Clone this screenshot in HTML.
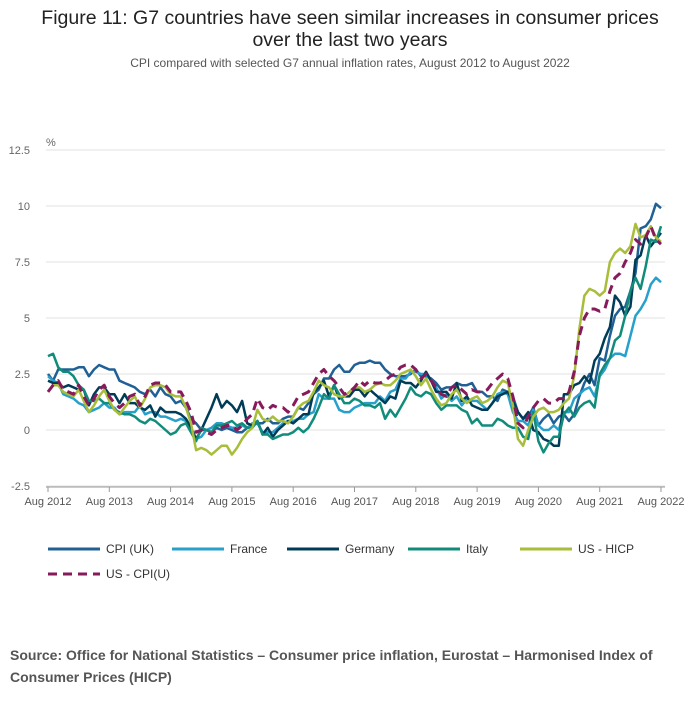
<!DOCTYPE html>
<html><head><meta charset="utf-8"><style>
body{margin:0;background:#fff;font-family:"Liberation Sans",sans-serif;}
#wrap{position:relative;width:700px;height:707px;overflow:hidden;}
.t{position:absolute;left:0;width:700px;text-align:center;color:#222;}
</style></head><body>
<div id="wrap">
<div class="t" style="top:7px;font-size:19.5px;line-height:22px;">Figure 11: G7 countries have seen similar increases in consumer prices<br>over the last two years</div>
<div class="t" style="top:56px;font-size:12px;color:#555;">CPI compared with selected G7 annual inflation rates, August 2012 to August 2022</div>
<svg id="chart" width="700" height="620" style="position:absolute;left:0;top:0"></svg>
<div style="position:absolute;left:10px;top:644px;width:680px;font-size:14px;font-weight:bold;color:#555;line-height:22px;">Source: Office for National Statistics – Consumer price inflation, Eurostat – Harmonised Index of Consumer Prices (HICP)</div>
</div>
<script>
const yTicks=[-2.5,0,2.5,5,7.5,10,12.5];
const yTickLabels=["-2.5","0","2.5","5","7.5","10","12.5"];
const xTickLabels=["Aug 2012","Aug 2013","Aug 2014","Aug 2015","Aug 2016","Aug 2017","Aug 2018","Aug 2019","Aug 2020","Aug 2021","Aug 2022"];
const seriesNames=["CPI (UK)","France","Germany","Italy","US - HICP","US - CPI(U)"];
const cpiUK=[2.5,2.2,2.7,2.7,2.7, 2.7,2.8,2.8,2.4,2.7,2.9,2.8,2.7,2.7,2.2,2.1,2.0, 1.9,1.7,1.6,1.8,1.5,1.9,1.6,1.5,1.2,1.3,1.0,0.5, 0.3,0.0,0.0,-0.1,0.1,0.0,0.1,0.0,-0.1,-0.1,0.1,0.2, 0.3,0.3,0.5,0.3,0.3,0.5,0.6,0.6,1.0,0.9,1.2,1.6, 1.8,2.3,2.3,2.7,2.9,2.6,2.6,2.9,3.0,3.0,3.1,3.0, 3.0,2.7,2.5,2.4,2.4,2.4,2.5,2.7,2.4,2.4,2.3,2.1, 1.8,1.9,1.9,2.1,2.0,2.0,2.1,1.7,1.7,1.5,1.5,1.3, 1.8,1.7,1.5,0.8,0.5,0.6,1.0,0.2,0.5,0.7,0.3,0.6, 0.7,0.4,0.7,1.5,2.1,2.5,2.0,3.2,3.1,4.2,5.1,5.4, 5.5,6.2,7.0,9.0,9.1,9.4,10.1,9.9];
const france=[2.4,2.2,2.1,1.6,1.5, 1.4,1.2,1.1,0.8,0.9,1.0,1.2,1.0,1.0,0.7,0.8,0.8, 0.8,1.1,0.7,0.8,0.8,0.6,0.6,0.5,0.4,0.5,0.4,0.1, -0.4,-0.3,0.0,0.1,0.3,0.3,0.2,0.1,0.1,0.2,0.1,0.3, 0.3,-0.1,-0.1,-0.1,0.1,0.3,0.4,0.4,0.5,0.5,0.7,0.8, 1.6,1.4,1.4,1.4,0.9,0.8,0.8,1.0,1.1,1.2,1.2,1.2, 1.5,1.3,1.7,1.8,2.3,2.3,2.6,2.6,2.5,2.5,2.2,1.9, 1.4,1.6,1.3,1.5,1.1,1.4,1.3,1.3,1.1,0.9,1.2,1.6, 1.7,1.6,0.8,0.4,0.4,0.2,0.9,0.2,0.0,0.0,0.2,0.0, 0.8,0.8,1.4,1.6,1.8,1.9,1.5,2.4,2.7,3.2,3.4,3.4, 3.3,4.2,5.1,5.4,5.8,6.5,6.8,6.6];
const germany=[2.2,2.1,2.1,1.9,2.0, 1.9,1.8,1.8,1.1,1.6,1.9,1.9,1.6,1.6,1.2,1.6,1.2, 1.2,1.0,0.9,1.1,0.6,1.0,0.8,0.8,0.8,0.7,0.5,0.1, -0.4,0.0,0.5,1.0,1.6,1.0,1.3,1.1,0.8,1.3,0.3,0.2, 0.4,-0.2,0.1,-0.3,0.0,0.2,0.4,0.3,0.5,0.7,0.7,1.7, 1.9,2.2,1.5,2.0,1.4,1.5,1.5,1.8,1.8,1.5,1.8,1.6, 1.4,1.2,1.5,1.4,2.2,2.1,2.1,1.9,2.2,2.6,2.2,1.7, 1.7,1.7,1.4,2.1,1.3,1.5,1.1,1.0,0.9,0.9,1.2,1.5, 1.6,1.7,1.3,0.8,0.5,0.8,0.0,-0.1,-0.4,-0.5,-0.7,-0.7, 1.6,1.6,2.0,2.1,2.4,2.1,3.1,3.4,4.1,4.6,6.0,5.7, 5.1,5.5,7.6,7.8,8.7,8.2,8.5,8.8];
const italy=[3.3,3.4,2.8,2.6,2.6, 2.4,2.0,1.8,1.3,1.3,1.4,1.2,1.2,0.9,0.8,0.7,0.7, 0.6,0.4,0.3,0.5,0.4,0.2,0.0,-0.2,-0.1,0.2,0.3,-0.1, -0.5,0.1,0.0,-0.1,0.2,0.2,0.3,0.4,0.2,0.3,0.1,0.1, 0.4,-0.2,-0.2,-0.4,-0.3,-0.2,-0.2,-0.1,0.1,-0.1,0.1,0.5, 1.0,1.6,1.4,2.0,1.6,1.2,1.2,1.4,1.3,1.1,1.1,1.0, 1.2,0.5,0.9,0.6,1.0,1.4,1.9,1.6,1.5,1.7,1.6,1.2, 0.9,1.1,1.1,1.1,0.9,0.8,0.3,0.5,0.2,0.2,0.2,0.5, 0.4,0.2,0.1,0.1,-0.3,-0.4,0.8,-0.5,-1.0,-0.6,-0.3,-0.3, 0.7,1.0,0.6,1.0,1.2,1.3,1.0,2.5,2.9,3.2,4.0,4.2, 5.1,6.2,6.8,6.3,7.3,8.5,8.4,9.1];
const usHICP=[1.7,2.0,2.0,1.7,1.6, 1.5,1.8,1.3,0.8,1.1,1.5,1.8,1.3,0.9,0.7,1.0,1.3, 1.5,1.0,1.4,1.9,2.0,2.0,1.9,1.6,1.5,1.5,1.0,0.3, -0.9,-0.8,-0.9,-1.1,-0.9,-0.7,-0.7,-1.1,-0.8,-0.4,-0.1,0.1, 0.9,0.5,0.4,0.6,0.4,0.4,0.3,0.6,1.0,1.2,1.3,1.7, 2.2,2.0,1.9,1.6,1.5,1.5,1.7,1.9,1.9,1.7,1.8,2.0, 2.1,2.0,2.0,2.2,2.5,2.6,2.7,2.4,2.0,2.3,1.8,1.4, 1.1,1.2,1.6,1.8,1.4,1.2,1.4,1.5,1.2,1.3,1.5,1.9, 2.2,2.1,1.1,-0.4,-0.7,0.0,0.6,0.9,1.0,0.8,0.8,0.9, 1.2,1.4,2.4,4.5,6.0,6.3,6.2,6.0,6.2,7.5,7.9,8.1, 7.9,8.2,9.2,8.6,8.7,9.1,8.6,8.4];
const usCPI=[1.7,2.0,2.2,1.8,1.7, 1.6,2.0,1.5,1.1,1.4,1.8,2.0,1.5,1.2,1.0,1.2,1.5, 1.6,1.1,1.5,2.0,2.1,2.1,2.0,1.7,1.7,1.7,1.3,0.8, -0.1,0.0,-0.1,-0.2,0.0,0.1,0.2,0.2,0.0,0.2,0.5,0.7, 1.4,1.0,0.9,1.1,1.0,1.0,0.8,1.1,1.5,1.6,1.7,2.1, 2.5,2.7,2.4,2.2,1.9,1.6,1.7,1.9,2.2,2.0,2.2,2.1, 2.1,2.2,2.4,2.5,2.8,2.9,2.9,2.7,2.3,2.5,2.2,1.9, 1.6,1.5,1.9,2.0,1.8,1.6,1.8,1.7,1.7,1.8,2.1,2.3, 2.5,2.3,1.5,0.3,0.1,0.6,1.0,1.3,1.4,1.2,1.2,1.4, 1.4,1.7,2.6,4.2,5.0,5.4,5.4,5.3,5.4,6.2,6.8,7.0, 7.5,7.9,8.5,8.3,8.6,9.1,8.5,8.3];
const ns="http://www.w3.org/2000/svg";
const svg=document.getElementById('chart');
const X0=48,X1=661,N=121;
function xs(i){return X0+(X1-X0)*i/(N-1);}
function ys(v){return 430-v*22.4;}
function mk(t,a){const e=document.createElementNS(ns,t);for(const k in a)e.setAttribute(k,a[k]);svg.appendChild(e);return e;}
yTicks.forEach((v,i)=>{
 const g=mk('line',{x1:46,x2:665,y1:ys(v),y2:ys(v),stroke:'#e0e0e0','stroke-width':1});
 
 
 const t=mk('text',{x:30,y:ys(v)+4,'font-size':11,fill:'#666','text-anchor':'end','font-family':'Liberation Sans, sans-serif'});
 t.textContent=yTickLabels[i];
 
 
});
const pct=mk('text',{x:46,y:146,'font-size':11,fill:'#666','font-family':'Liberation Sans, sans-serif'});pct.textContent='%';


const ax=mk('line',{x1:46,x2:665,y1:487,y2:487,stroke:'#999','stroke-width':1});


xTickLabels.forEach((l,i)=>{
 const x=xs(i*12);
 const tk=mk('line',{x1:x,x2:x,y1:487,y2:492,stroke:'#999'});
 
 
 const t=mk('text',{x:x,y:505,'font-size':11,fill:'#555','text-anchor':'middle','font-family':'Liberation Sans, sans-serif'});
 t.textContent=l;
 
 
});
const colors=['#206095','#27a0cc','#003c57','#118c7b','#a8bd3a','#871a5b'];
const data=[cpiUK,france,germany,italy,usHICP,usCPI];
const slugs=['cpi-uk','france','germany','italy','us-hicp','us-cpi-u'];
data.forEach((d,s)=>{
 const p=d.map((v,i)=>(i?'L':'M')+xs(i).toFixed(1)+' '+ys(v).toFixed(1)).join(' ');
 const a={d:p,fill:'none',stroke:colors[s],'stroke-width':s==5?3:2.5,'stroke-linejoin':'round'};
 if(s==5)a['stroke-dasharray']='9 6';
 const e=mk('path',a);
 
 
});
const legPos=[[48,549],[172,549],[287,549],[408,549],[520,549],[48,574]];
seriesNames.forEach((n,s)=>{
 const [x,y]=legPos[s];
 const a={x1:x,x2:x+52,y1:y,y2:y,stroke:colors[s],'stroke-width':3};
 if(s==5)a['stroke-dasharray']='9 6';
 const l=mk('line',a);
 
 
 const t=mk('text',{x:x+58,y:y+4,'font-size':12,fill:'#333','font-family':'Liberation Sans, sans-serif'});
 t.textContent=n;
 
 
});
</script>
</body></html>
